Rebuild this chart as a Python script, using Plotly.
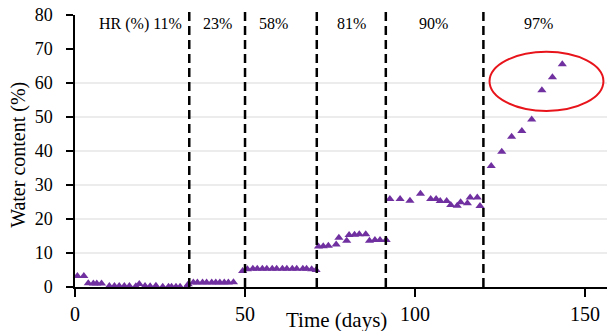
import plotly.graph_objects as go

# ---- data ----
time_days = [
    0.7, 2.6, 3.9, 5.4, 6.4, 7.8, 10.1, 11.6, 13.0, 14.5, 16.0, 17.9, 18.9, 20.6,
    22.1, 23.8, 25.8, 27.5, 28.4, 29.7, 30.9, 32.8,
    33.3, 34.8, 36.0, 37.5, 38.7, 40.2, 41.4, 42.6, 43.9, 45.1, 46.6,
    49.3, 50.7, 52.3, 53.6, 55.1, 56.4, 58.0, 59.3, 61.0, 62.3, 63.9, 65.2, 67.0,
    68.1, 69.6, 70.9,
    71.6, 73.0, 74.5, 76.8, 77.6, 79.9, 80.6, 82.2, 83.6, 85.5, 86.6, 88.2, 89.7, 91.5,
    92.6, 95.6, 98.5, 101.6, 104.6, 106.2, 107.4, 109.3, 110.5, 112.4, 113.4, 115.4,
    116.2, 118.3, 119.1,
    122.4, 125.5, 128.4, 131.4, 134.3, 137.3, 140.4, 143.3,
]
water_content = [
    3.2, 3.2, 1.1, 1.0, 1.0, 1.0, 0.3, 0.3, 0.3, 0.3, 0.3, 0.2, 0.9, 0.3,
    0.2, 0.4, 0.1, 0.1, 0.1, 0.1, 0.1, 0.0,
    0.8, 1.3, 1.3, 1.3, 1.3, 1.3, 1.3, 1.3, 1.3, 1.3, 1.4,
    4.7, 5.2, 5.4, 5.4, 5.4, 5.4, 5.4, 5.4, 5.4, 5.4, 5.4, 5.4, 5.4,
    5.4, 5.2, 5.0,
    11.9, 12.0, 12.1, 12.5, 14.5, 13.6, 15.3, 15.4, 15.5, 15.5, 13.6, 13.8, 13.8, 13.8,
    25.9, 25.9, 25.4, 27.4, 25.9, 25.9, 25.3, 25.3, 24.1, 23.9, 24.9, 24.6,
    26.3, 26.3, 23.8,
    35.6, 39.8, 44.2, 45.9, 49.3, 57.9, 61.7, 65.5,
]
hr_change_days = [33.6, 50.0, 71.1, 91.4, 120.1]
hr_labels = ["HR (%) 11%", "23%", "58%", "81%", "90%", "97%"]
hr_label_days = [19.4, 41.8, 58.5, 81.4, 105.3, 136.2]
x_ticks = [0, 50, 100, 150]
y_ticks = [0, 10, 20, 30, 40, 50, 60, 70, 80]
grid_values = [10, 20, 30, 40, 50, 60]

SERIF = "Liberation Serif, Times New Roman, serif"
PURPLE = "#7030A0"

fig = go.Figure()
fig.add_trace(go.Scatter(
    x=time_days, y=water_content, mode="markers",
    marker=dict(symbol="triangle-up", size=8, color=PURPLE),
    showlegend=False, cliponaxis=False,
))

shapes = []
for g in grid_values:
    shapes.append(dict(type="line", xref="paper", yref="y", x0=0, x1=1, y0=g, y1=g,
                       line=dict(color="#d9d9d9", width=1), layer="below"))
for d in hr_change_days:
    shapes.append(dict(type="line", xref="x", yref="paper", x0=d, x1=d, y0=0, y1=1.044,
                       line=dict(color="black", width=2.5, dash="9px,5px")))
shapes.append(dict(type="circle", xref="x", yref="y", x0=121.9, x1=155.4, y0=51.8, y1=69.2,
                   line=dict(color="#e8141b", width=2)))

annotations = []
for lab, d in zip(hr_labels, hr_label_days):
    annotations.append(dict(x=d, y=77.4, xref="x", yref="y", text=lab, showarrow=False,
                            font=dict(family=SERIF, size=16, color="black"),
                            xanchor="center", yanchor="middle"))
annotations.append(dict(x=-0.106, y=0.485, xref="paper", yref="paper", text="Water content (%)",
                        textangle=-90, showarrow=False,
                        font=dict(family=SERIF, size=20, color="black"),
                        xanchor="center", yanchor="middle"))
annotations.append(dict(x=0.485, y=-0.121, xref="paper", yref="paper", text="Time (days)",
                        showarrow=False, font=dict(family=SERIF, size=21, color="black"),
                        xanchor="center", yanchor="middle"))

# page body has an 8px default margin, so the figure is sized/offset to compensate
fig.update_layout(
    width=607, height=323,
    margin=dict(l=67, r=0, t=7, b=44, autoexpand=False),
    paper_bgcolor="white", plot_bgcolor="white",
    shapes=shapes, annotations=annotations,
    xaxis=dict(range=[0, 158.8], tickvals=x_ticks, showline=True, linecolor="black",
               linewidth=1.5, ticks="outside", ticklen=8, tickwidth=1.5, tickcolor="black",
               showgrid=False, zeroline=False, automargin=False, ticklabeloverflow="allow",
               tickfont=dict(family=SERIF, size=20, color="black")),
    yaxis=dict(range=[0, 80], tickvals=y_ticks, showline=True, linecolor="black",
               linewidth=1.5, ticks="outside", ticklen=7, tickwidth=1.5, tickcolor="black",
               showgrid=False, zeroline=False, ticklabelstandoff=10, automargin=False,
               ticklabeloverflow="allow",
               tickfont=dict(family=SERIF, size=18, color="black")),
)

fig.write_html("out.html")
